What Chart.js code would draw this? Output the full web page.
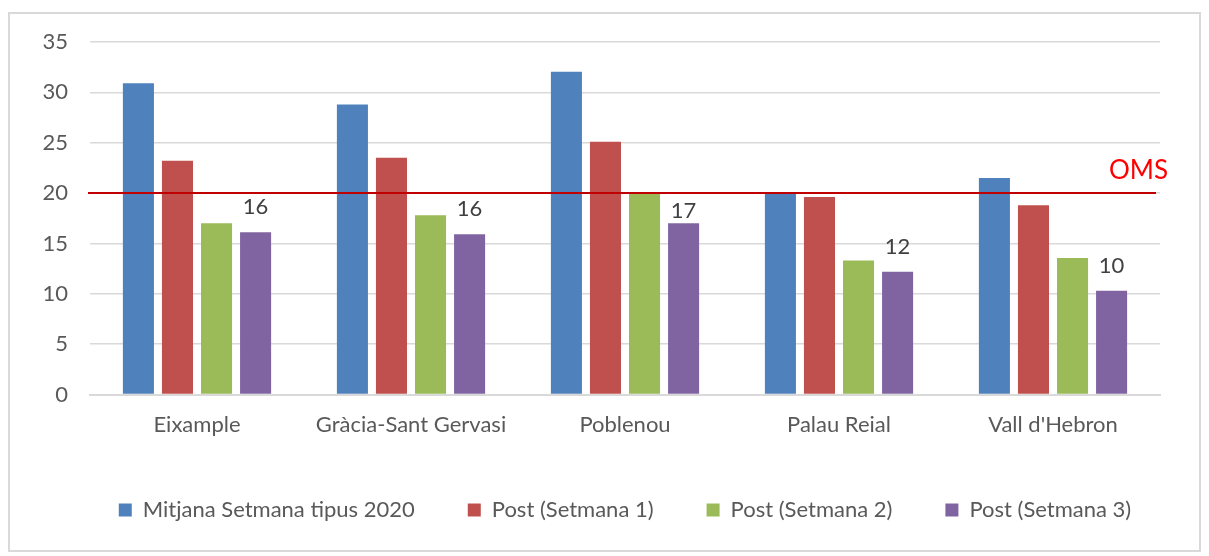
<!DOCTYPE html>
<html lang="ca">
<head>
    <meta charset="UTF-8">
    <title>index</title>
    <script src="https://cdn.jsdelivr.net/npm/chart.js@4.4.0/dist/chart.umd.min.js"></script>
    <style>
        html, body {
            margin: 0;
            padding: 0;
            background: #fff;
        }

        .frame {
            position: absolute;
            left: 8px;
            top: 12px;
            width: 1189px;
            height: 536px;
            border: 2px solid #d9d9d9;
        }

        .chart-container {
            position: absolute;
            left: 0;
            top: 0;
            width: 1209px;
            height: 556px;
        }
    </style>
</head>
<body>
<div class="frame"></div>
<div class="chart-container">
    <canvas id="canvas"></canvas>
</div>

<script>
    var labels = ["Eixample", "Gràcia-Sant Gervasi", "Poblenou", "Palau Reial", "Vall d'Hebron"];
    var mitjana2020 = [30.9, 28.8, 32.05, 20.0, 21.5];
    var setmana1 = [23.2, 23.5, 25.1, 19.6, 18.8];
    var setmana2 = [17.0, 17.8, 20.0, 13.3, 13.55];
    var setmana3 = [16.1, 15.9, 17.0, 12.2, 10.3];
    var omsLimit = 20;
    var yTicks = [0, 5, 10, 15, 20, 25, 30, 35];

    // distance of each value label above its bar (the Poblenou one was nudged down under the OMS line)
    var labelLift = [25, 25, 12, 25, 25];

    var fontFamily = 'Lato, "Open Sans", sans-serif';
    var textColor = '#595959';

    // OMS reference line + value labels over the last series
    var extras = {
        id: 'extras',
        afterLayout: function (chart) {
            // centre the legend under the plot area, like Excel does
            chart.legend.left += 35;
            chart.legend.right += 35;
        },
        afterDatasetsDraw: function (chart) {
            var ctx = chart.ctx;
            var y = chart.scales.y.getPixelForValue(omsLimit);
            var area = chart.chartArea;
            ctx.save();
            ctx.strokeStyle = '#C00000';
            ctx.lineWidth = 2;
            ctx.beginPath();
            ctx.moveTo(area.left - 2, y);
            ctx.lineTo(area.right - 4, y);
            ctx.stroke();

            ctx.fillStyle = '#FF0000';
            ctx.font = '26px ' + fontFamily;
            ctx.textAlign = 'right';
            ctx.textBaseline = 'middle';
            ctx.fillText('OMS', area.right + 8, y - 22);

            var meta = chart.getDatasetMeta(3);
            ctx.fillStyle = '#404040';
            ctx.font = '22px ' + fontFamily;
            ctx.textAlign = 'center';
            meta.data.forEach(function (bar, i) {
                ctx.fillText(Math.round(setmana3[i]).toString(), bar.x, bar.y - labelLift[i]);
            });
            ctx.restore();
        }
    };

    window.onload = function () {
        var ctx = document.getElementById("canvas").getContext("2d");
        window.myBar = new Chart(ctx, {
            type: 'bar',
            data: {
                labels: labels,
                datasets: [{
                    label: 'Mitjana Setmana tipus 2020',
                    backgroundColor: '#4F81BD',
                    data: mitjana2020
                }, {
                    label: 'Post (Setmana 1)',
                    backgroundColor: '#C0504D',
                    data: setmana1
                }, {
                    label: 'Post (Setmana 2)',
                    backgroundColor: '#9BBB59',
                    data: setmana2
                }, {
                    label: 'Post (Setmana 3)',
                    backgroundColor: '#8064A2',
                    data: setmana3
                }]
            },
            options: {
                responsive: true,
                maintainAspectRatio: false,
                animation: false,
                categoryPercentage: 0.73,
                barPercentage: 0.795,
                layout: {
                    padding: {left: 20, right: 49, top: 42, bottom: 25}
                },
                scales: {
                    x: {
                        grid: {display: false, drawTicks: false},
                        border: {color: '#d9d9d9', width: 2},
                        ticks: {
                            color: textColor,
                            padding: 17,
                            font: {family: fontFamily, size: 22}
                        },
                        afterFit: function (scale) {
                            scale.height = 51.5;
                        }
                    },
                    y: {
                        min: 0,
                        max: 35,
                        afterBuildTicks: function (scale) {
                            scale.ticks = yTicks.map(function (v) {
                                return {value: v};
                            });
                        },
                        grid: {color: '#d9d9d9', lineWidth: 1.5, drawTicks: false},
                        border: {display: false},
                        ticks: {
                            color: textColor,
                            padding: 22,
                            font: {family: fontFamily, size: 22}
                        },
                        afterFit: function (scale) {
                            scale.width = 70;
                        }
                    }
                },
                plugins: {
                    tooltip: {enabled: false},
                    legend: {
                        position: 'bottom',
                        labels: {
                            boxWidth: 13,
                            boxHeight: 13,
                            padding: 53,
                            color: textColor,
                            font: {family: fontFamily, size: 22}
                        }
                    }
                }
            },
            plugins: [extras]
        });
    };
</script>
</body>
</html>
